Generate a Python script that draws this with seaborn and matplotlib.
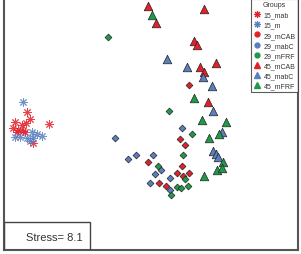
import matplotlib
matplotlib.use("Agg")
import matplotlib.pyplot as plt
import seaborn as sns
import pandas as pd
from matplotlib.lines import Line2D
from matplotlib.patches import Rectangle

sns.set_style("white")
plt.rcParams['font.family'] = ['Liberation Sans', 'DejaVu Sans']

# NMDS coordinates (pixel-like units, y downward)
g15_mab_x = [27, 30, 15, 26, 49, 13, 18, 23, 17, 25, 33, 22]
g15_mab_y = [113, 120, 123, 124, 125, 129, 131, 132, 133, 133, 144, 126]
g15_m_x = [23, 32, 20, 27, 33, 42, 15, 30, 37]
g15_m_y = [103, 133, 138, 139, 139, 137, 138, 142, 135]
g29_mCAB_x = [189, 180, 185, 148, 182, 177, 183, 189, 159, 166]
g29_mCAB_y = [86, 140, 146, 163, 167, 174, 177, 174, 184, 187]
g29_mabC_x = [115, 182, 128, 136, 153, 161, 155, 170, 150, 170]
g29_mabC_y = [139, 129, 160, 156, 156, 171, 175, 179, 184, 191]
g29_mFRF_x = [108, 169, 192, 183, 158, 185, 177, 181, 188, 171]
g29_mFRF_y = [38, 112, 135, 156, 167, 180, 188, 189, 187, 196]
g45_mCAB_x = [148, 156, 204, 194, 197, 200, 204, 216, 208]
g45_mCAB_y = [7, 24, 10, 42, 46, 68, 73, 64, 103]
g45_mabC_x = [167, 187, 203, 212, 213, 222, 213, 216, 218]
g45_mabC_y = [60, 68, 78, 87, 112, 133, 152, 155, 158]
g45_mFRF_x = [152, 194, 202, 226, 209, 219, 223, 217, 222, 204]
g45_mFRF_y = [16, 99, 121, 123, 139, 135, 163, 171, 169, 177]

groups = ["15_mab", "15_m", "29_mCAB", "29_mabC", "29_mFRF", "45_mCAB", "45_mabC", "45_mFRF"]
xs = [g15_mab_x, g15_m_x, g29_mCAB_x, g29_mabC_x, g29_mFRF_x, g45_mCAB_x, g45_mabC_x, g45_mFRF_x]
ys = [g15_mab_y, g15_m_y, g29_mCAB_y, g29_mabC_y, g29_mFRF_y, g45_mCAB_y, g45_mabC_y, g45_mFRF_y]
stress_label = "Stress= 8.1"

RED, BLUE, GREEN = "#e3202a", "#5a7fbf", "#1f9a48"
colors = [RED, BLUE, RED, BLUE, GREEN, RED, BLUE, GREEN]
markers = [(8, 2, 0), (8, 2, 0), "D", "D", "D", "^", "^", "^"]
leg_markers = [(8, 2, 0), (8, 2, 0), "o", "o", "o", "^", "^", "^"]
sizes = [30, 30, 12, 12, 12, 38, 38, 38]

fig = plt.figure(figsize=(3.01, 2.55), dpi=100)
ax = fig.add_axes([4/301, 4/255, 294/301, 251/255])

handles = []
for g, x, y, c, m, lm, s in zip(groups, xs, ys, colors, markers, leg_markers, sizes):
    df = pd.DataFrame({"x": x, "y": y})
    if isinstance(m, tuple):
        sns.scatterplot(data=df, x="x", y="y", ax=ax, marker=m, s=s,
                        color=c, linewidth=0.7, alpha=0.85, legend=False)
        handles.append(Line2D([], [], marker=lm, ls="", color=c, markersize=5, mew=0.8, label=g))
    else:
        sns.scatterplot(data=df, x="x", y="y", ax=ax, marker=m, s=s,
                        color=c, edgecolor="#222222", linewidth=0.5, legend=False)
        handles.append(Line2D([], [], marker=lm, ls="", markerfacecolor=c, markeredgecolor=c,
                              markersize=3.5 if lm == "o" else 4.5, label=g))

ax.set_xlim(4, 298)
ax.set_ylim(251, 0)
ax.set_xlabel("")
ax.set_ylabel("")
ax.set_xticks([])
ax.set_yticks([])
for side in ["left", "bottom", "right"]:
    ax.spines[side].set_color("#555555")
    ax.spines[side].set_linewidth(1.5)
ax.spines["top"].set_visible(False)

ax.add_patch(Rectangle((4, 223), 86, 28, fill=False, edgecolor="#444444", linewidth=1.0, zorder=5))
ax.text(54, 238, stress_label, ha="center", va="center", fontsize=8, color="#333333")

leg = ax.legend(handles=handles, title="Groups", loc="upper right",
                bbox_to_anchor=(1.0, 1.0), fontsize=5, title_fontsize=5,
                frameon=True, fancybox=False, borderpad=0.35, labelspacing=0.45,
                handlelength=1.0, handletextpad=0.5, borderaxespad=0.0)
leg.get_frame().set_edgecolor("#333333")
leg.get_frame().set_linewidth(0.8)
for t in leg.get_texts():
    t.set_color("#333333")
leg.get_title().set_color("#333333")

fig.savefig("out.png", dpi=100)
